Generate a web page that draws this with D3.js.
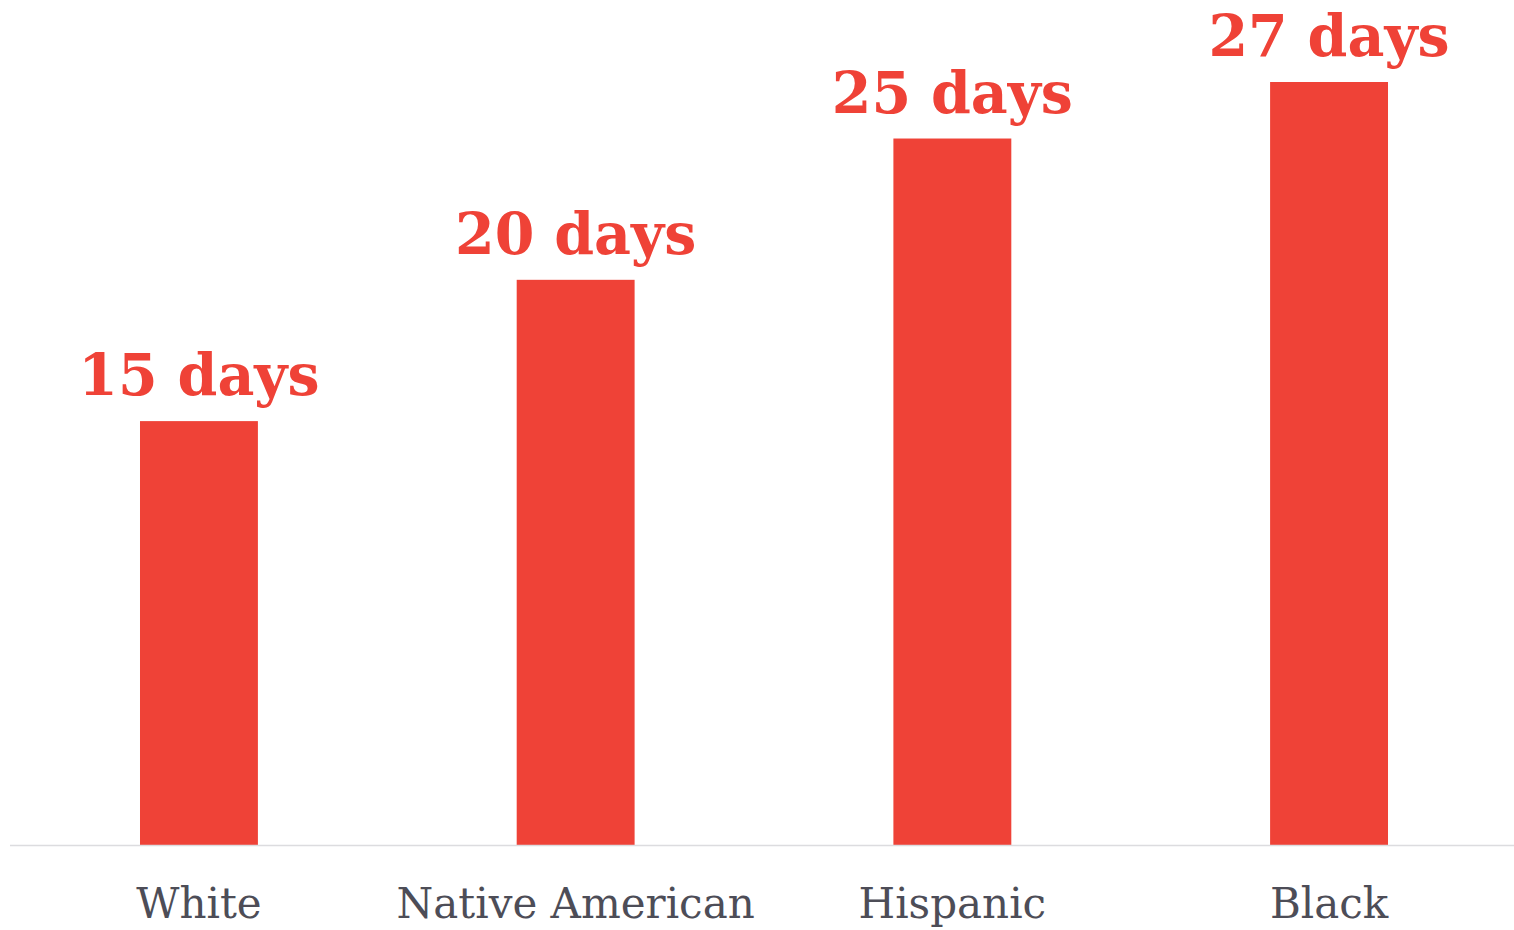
<!DOCTYPE html>
<html lang="en">
<head>
    <meta charset="UTF-8">
    <title>Days by group</title>
    <style>
        body { margin: 0; background: #fff; }
        #chart { width: 1514px; height: 930px; }
    </style>
    <script src="https://d3js.org/d3.v7.min.js"></script>
</head>
<body>
    <div id="chart"></div>
    <script>
        const groups = ["White", "Native American", "Hispanic", "Black"];
        const days = [15, 20, 25, 27];
        const labels = ["15 days", "20 days", "25 days", "27 days"];

        const width = 1514, height = 930;
        const baseline = 845;

        const svg = d3.select("#chart").append("svg")
            .attr("width", width)
            .attr("height", height);

        const x = d3.scaleBand()
            .domain(groups)
            .range([10.6, 1517.4])
            .paddingInner(0.687)
            .paddingOuter(0.3435);

        const y = d3.scaleLinear()
            .domain([0, 27])
            .range([baseline, 82]);

        svg.selectAll("rect.bar")
            .data(groups)
            .enter()
            .append("rect")
            .attr("class", "bar")
            .attr("x", d => x(d))
            .attr("width", x.bandwidth())
            .attr("y", (d, i) => y(days[i]))
            .attr("height", (d, i) => baseline - y(days[i]))
            .style("fill", "#ef4237");

        // baseline
        svg.append("line")
            .attr("x1", 10).attr("x2", 1514)
            .attr("y1", baseline + 0.5).attr("y2", baseline + 0.5)
            .style("stroke", "#dcdcdf")
            .style("stroke-width", 1.5);

        svg.selectAll("text.value")
            .data(groups)
            .enter()
            .append("text")
            .attr("class", "value")
            .attr("x", d => x(d) + x.bandwidth() / 2)
            .attr("y", (d, i) => y(days[i]) - 26)
            .attr("text-anchor", "middle")
            .style("font-family", "Georgia, 'DejaVu Serif', serif")
            .style("font-weight", "bold")
            .style("font-size", "57px")
            .style("fill", "#ef4237")
            .text((d, i) => labels[i]);

        svg.selectAll("text.cat")
            .data(groups)
            .enter()
            .append("text")
            .attr("class", "cat")
            .attr("x", d => x(d) + x.bandwidth() / 2)
            .attr("y", 918)
            .attr("text-anchor", "middle")
            .style("font-family", "Georgia, 'DejaVu Serif', serif")
            .style("font-size", "42px")
            .style("fill", "#4d4d57")
            .text(d => d);
    </script>
</body>
</html>
